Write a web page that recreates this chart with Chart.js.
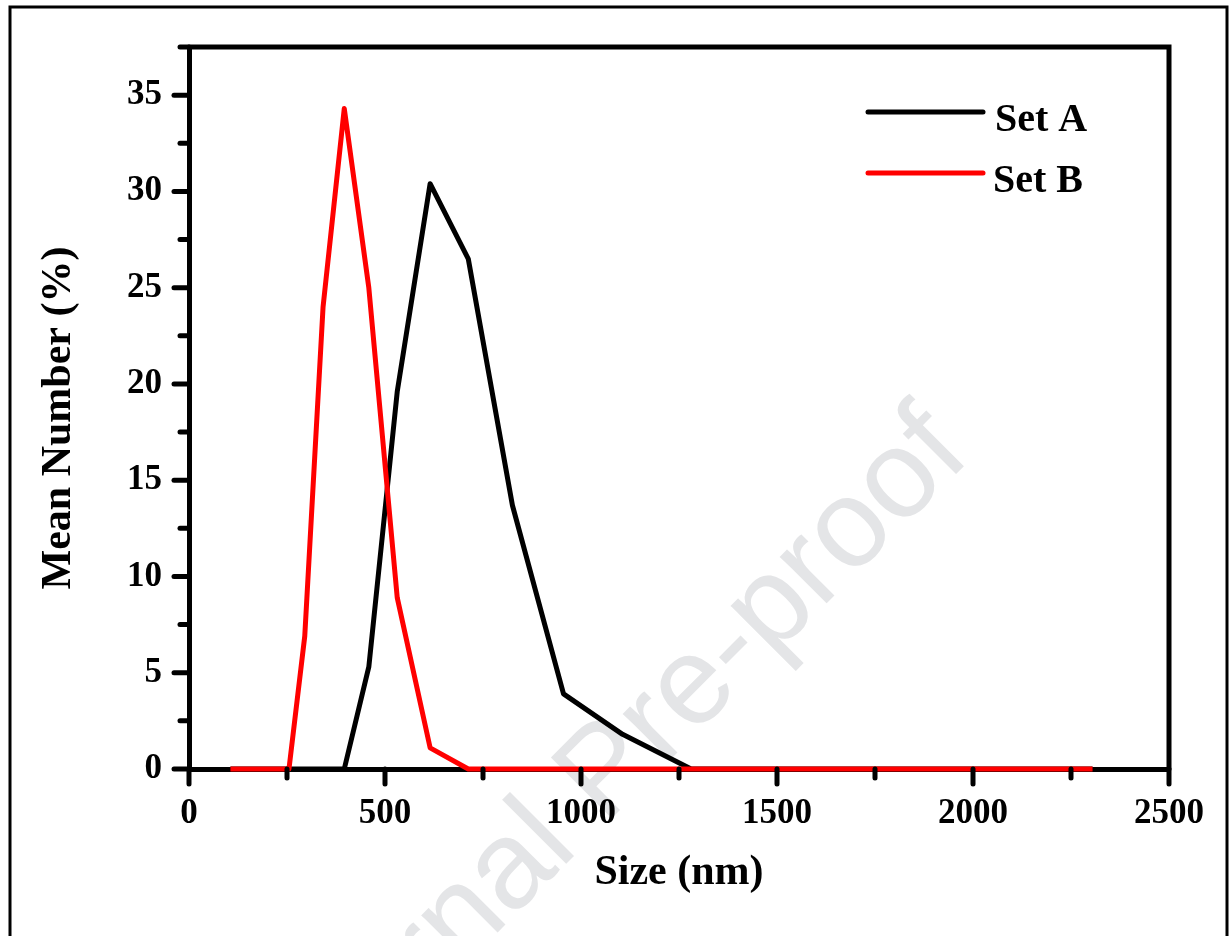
<!DOCTYPE html>
<html>
<head>
<meta charset="utf-8">
<script src="https://cdn.jsdelivr.net/npm/chart.js@4.4.1/dist/chart.umd.min.js"></script>
<style>
    html, body { margin: 0; padding: 0; background: #fff; }
    #wrap { width: 1231px; height: 936px; }
</style>
</head>
<body>
<div id="wrap"><canvas id="sizeChart" width="1231" height="936"></canvas></div>
<script>
// size bins (nm) and mean number (%)
const sizeNm = [105.7, 122.4, 141.8, 164.2, 190.1, 220.2, 255.0, 295.3, 342.0, 396.1, 458.7,
    531.2, 615.1, 712.4, 825.0, 955.4, 1106, 1281, 1484, 1718, 1990, 2305];
const setA = [0, 0, 0, 0, 0, 0, 0, 0, 0, 0, 5.3, 19.6, 30.4, 26.5, 13.7, 3.9, 1.8, 0, 0, 0, 0, 0];
const setB = [0, 0, 0, 0, 0, 0, 0, 6.9, 24.0, 34.3, 25.0, 8.9, 1.1, 0, 0, 0, 0, 0, 0, 0, 0, 0];

const xTicks = [0, 500, 1000, 1500, 2000, 2500];
const xMinor = [250, 750, 1250, 1750, 2250];
const yTicks = [0, 5, 10, 15, 20, 25, 30, 35];
const yMinor = [2.5, 7.5, 12.5, 17.5, 22.5, 27.5, 32.5, 37.5];

const seriesNames = ["Set A", "Set B"];
const seriesColors = ["#000000", "#ff0000"];
const yTitle = "Mean Number (%)";

const SERIF = '"Liberation Serif", "Times New Roman", serif';

// frame, ticks, legend, y title, watermark
const framePlugin = {
    id: "frame",
    beforeDraw(chart) {
        const ctx = chart.ctx;
        ctx.save();
        ctx.fillStyle = "#fff";
        ctx.fillRect(0, 0, chart.width, chart.height);
        // watermark
        ctx.translate(290, 1140);
        ctx.rotate(-Math.PI / 4);
        ctx.fillStyle = "#e4e5e7";
        ctx.font = '125px "Liberation Sans", Arial, sans-serif';
        ctx.textBaseline = "alphabetic";
        ctx.fillText("Journal Pre-proof", 0, 0);
        ctx.restore();
    },
    afterDraw(chart) {
        const ctx = chart.ctx;
        const area = chart.chartArea;
        const xs = chart.scales.x;
        const ys = chart.scales.y;
        ctx.save();

        // outer picture border
        ctx.strokeStyle = "#000";
        ctx.lineWidth = 3;
        ctx.strokeRect(10, 7, 1217, 1000);

        // top and right axis lines
        ctx.lineWidth = 5;
        ctx.lineCap = "round";
        ctx.beginPath();
        ctx.moveTo(area.left, area.top);
        ctx.lineTo(area.right, area.top);
        ctx.lineTo(area.right, area.bottom);
        ctx.stroke();

        // tick marks
        const tickX = (v, len) => {
            const px = xs.getPixelForValue(v);
            ctx.beginPath();
            ctx.moveTo(px, area.bottom);
            ctx.lineTo(px, area.bottom + len);
            ctx.stroke();
        };
        const tickY = (v, len) => {
            const py = ys.getPixelForValue(v);
            ctx.beginPath();
            ctx.moveTo(area.left, py);
            ctx.lineTo(area.left - len, py);
            ctx.stroke();
        };
        xTicks.forEach(v => tickX(v, 15));
        xMinor.forEach(v => tickX(v, 9));
        yTicks.forEach(v => tickY(v, 15));
        yMinor.forEach(v => tickY(v, 9));

        // y axis title
        ctx.save();
        ctx.translate(59, 418);
        ctx.rotate(-Math.PI / 2);
        ctx.font = "bold 42px " + SERIF;
        ctx.fillStyle = "#000";
        ctx.textAlign = "center";
        ctx.textBaseline = "middle";
        ctx.fillText(yTitle, 0, 0);
        ctx.restore();

        // legend
        ctx.font = "bold 40px " + SERIF;
        ctx.textBaseline = "alphabetic";
        ctx.textAlign = "left";
        const legendRows = [{ y: 112, base: 131 }, { y: 173, base: 192 }];
        seriesNames.forEach((name, i) => {
            ctx.strokeStyle = seriesColors[i];
            ctx.beginPath();
            ctx.moveTo(868, legendRows[i].y);
            ctx.lineTo(983, legendRows[i].y);
            ctx.stroke();
            ctx.fillStyle = "#000";
            ctx.fillText(name, 995 - i * 2, legendRows[i].base);
        });
        ctx.restore();
    }
};

const toPoints = vals => sizeNm.map((s, i) => ({ x: s, y: vals[i] }));

new Chart(document.getElementById("sizeChart"), {
    type: "line",
    data: {
        datasets: [
            {
                label: seriesNames[0],
                data: toPoints(setA),
                borderColor: seriesColors[0],
                borderWidth: 5,
                borderJoinStyle: "round",
                pointRadius: 0,
                tension: 0,
                clip: false,
                order: 1
            },
            {
                label: seriesNames[1],
                data: toPoints(setB),
                borderColor: seriesColors[1],
                borderWidth: 5,
                borderJoinStyle: "round",
                pointRadius: 0,
                tension: 0,
                clip: false,
                order: 0
            }
        ]
    },
    options: {
        responsive: false,
        animation: false,
        layout: {
            padding: { top: 47, right: 62, bottom: 0, left: 0 }
        },
        plugins: {
            legend: { display: false },
            tooltip: { enabled: false }
        },
        scales: {
            x: {
                type: "linear",
                min: 0,
                max: 2500,
                afterBuildTicks: scale => {
                    scale.ticks = xTicks.map(v => ({ value: v }));
                },
                afterFit: scale => {
                    scale.height = 167;
                },
                grid: { display: false },
                border: { display: true, color: "#000", width: 5 },
                ticks: {
                    color: "#000",
                    padding: 16,
                    maxRotation: 0,
                    callback: v => String(v),
                    font: { family: SERIF, size: 35, weight: "bold", lineHeight: 1.2 }
                },
                title: {
                    display: true,
                    text: "Size (nm)",
                    color: "#000",
                    padding: { top: 0, bottom: 42 },
                    font: { family: SERIF, size: 42, weight: "bold", lineHeight: 1 }
                }
            },
            y: {
                min: 0,
                max: 37.5,
                afterBuildTicks: scale => {
                    scale.ticks = yTicks.map(v => ({ value: v }));
                },
                afterFit: scale => {
                    scale.width = 189;
                },
                grid: { display: false },
                border: { display: true, color: "#000", width: 5 },
                ticks: {
                    color: "#000",
                    padding: 19,
                    callback: v => String(v),
                    font: { family: SERIF, size: 35, weight: "bold", lineHeight: 1.2 }
                },
                title: { display: false }
            }
        }
    },
    plugins: [framePlugin]
});
</script>
</body>
</html>
